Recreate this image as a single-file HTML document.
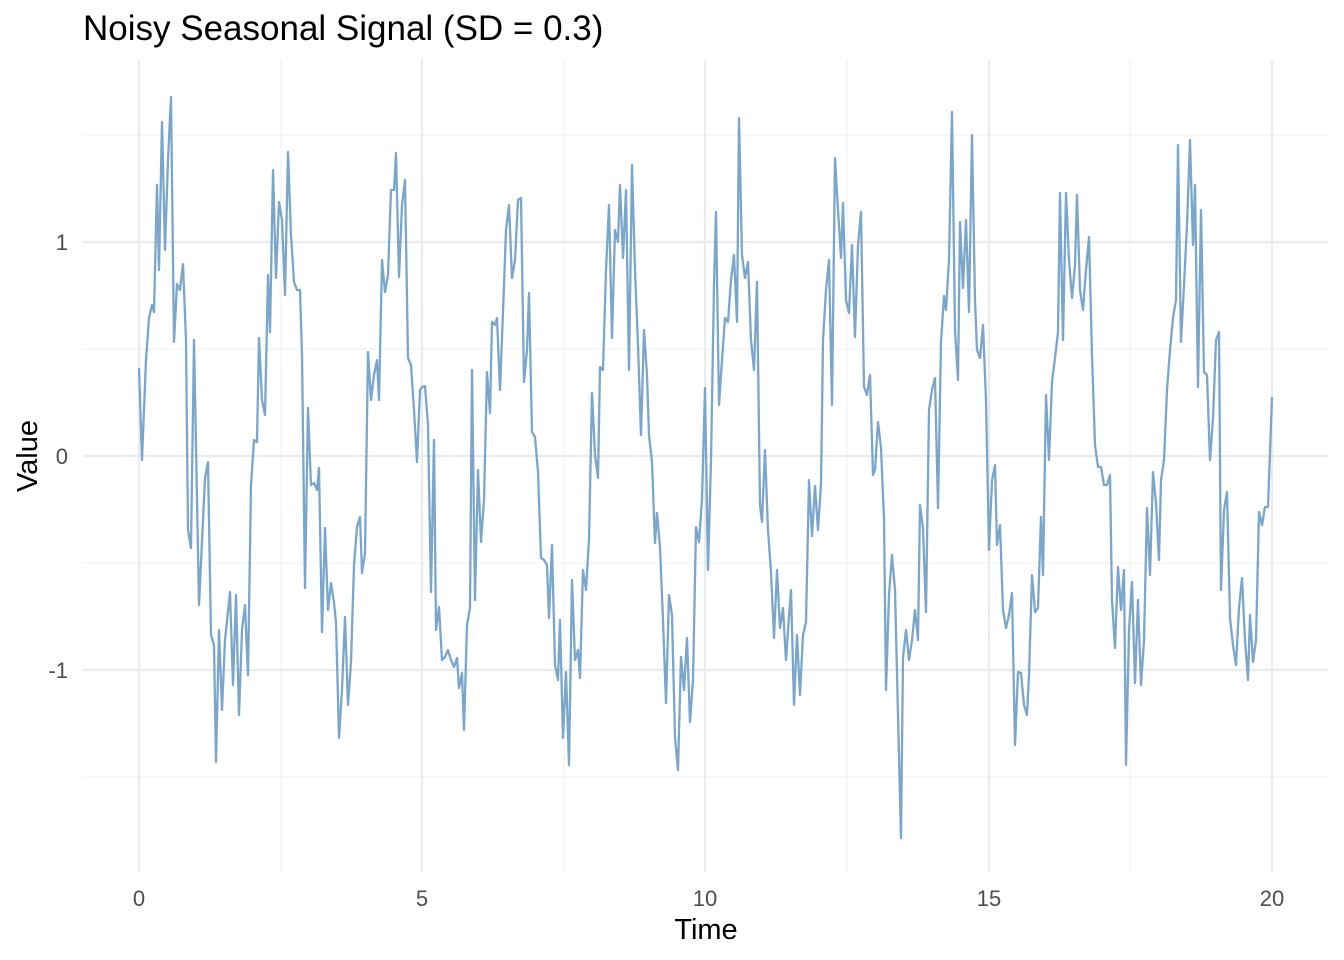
<!DOCTYPE html>
<html><head><meta charset="utf-8"><style>
html,body{margin:0;padding:0;background:#fff;}
svg{display:block;font-family:"Liberation Sans",sans-serif;}
</style></head><body>
<svg width="1344" height="960" viewBox="0 0 1344 960">
<rect width="1344" height="960" fill="#fff"/>
<g stroke="#f0f0f0" stroke-width="1.1">
<line x1="83" x2="1328" y1="135" y2="135"/>
<line x1="83" x2="1328" y1="349" y2="349"/>
<line x1="83" x2="1328" y1="563" y2="563"/>
<line x1="83" x2="1328" y1="777" y2="777"/>
<line y1="60" y2="872" x1="281" x2="281"/>
<line y1="60" y2="872" x1="564" x2="564"/>
<line y1="60" y2="872" x1="847" x2="847"/>
<line y1="60" y2="872" x1="1130" x2="1130"/>
</g>
<g stroke="#ebebeb" stroke-width="2.2">
<line x1="83" x2="1328" y1="242" y2="242"/>
<line x1="83" x2="1328" y1="456" y2="456"/>
<line x1="83" x2="1328" y1="670" y2="670"/>
<line y1="60" y2="872" x1="139" x2="139"/>
<line y1="60" y2="872" x1="422" x2="422"/>
<line y1="60" y2="872" x1="705" x2="705"/>
<line y1="60" y2="872" x1="989" x2="989"/>
<line y1="60" y2="872" x1="1272" x2="1272"/>
</g>
<polyline fill="none" stroke="#7aa6cc" stroke-width="2.3" stroke-linejoin="round" points="139,368 142,460 146,360 149,318 152,305 154,312 157,185 159,270 162,122 165,250 168,160 171,97 174,342 177,284 180,290 183,264 186,340 188,530 191,548 194,340 199,605 205,478 208,462 211,635 214,645 216,762 219,630 222,710 225,640 230,592 233,685 236,595 239,715 242,630 245,605 248,675 251,485 254,440 257,442 259,338 262,400 265,415 268,275 270,332 273,170 276,278 279,202 282,220 285,295 288,152 291,235 294,282 297,290 300,290 302,355 305,588 308,408 311,485 314,483 317,490 319,468 322,632 325,528 328,610 331,583 334,603 336,622 339,738 342,690 345,617 348,705 351,662 354,565 357,527 360,517 362,573 365,553 368,352 371,400 374,375 377,360 379,400 382,260 385,292 388,275 391,190 394,190 396,153 399,277 402,205 405,180 408,358 411,365 414,410 417,462 420,390 422,387 425,386 428,425 431,592 434,440 436,630 439,607 442,660 445,657 448,650 451,660 454,667 457,658 459,688 462,673 464,730 467,625 470,608 472,370 475,600 478,470 481,542 484,500 487,372 490,413 492,322 495,325 497,318 500,390 503,312 506,230 509,205 512,278 515,260 518,200 521,198 524,382 527,350 529,293 532,432 535,437 538,472 541,558 544,560 547,565 549,618 552,545 555,665 558,680 560,620 563,738 566,672 569,765 572,580 575,660 578,650 580,678 583,570 586,590 589,540 592,393 595,455 598,478 600,367 603,370 606,270 609,205 612,338 615,230 618,242 620,185 623,258 626,190 629,370 632,165 635,270 638,345 641,435 644,330 647,375 649,435 652,462 655,543 657,513 660,547 663,620 666,703 669,595 672,615 675,737 678,770 681,657 684,690 687,638 690,722 693,680 696,527 699,542 702,500 705,388 708,570 711,460 714,285 716,212 719,405 722,360 725,318 728,322 731,280 734,255 737,322 739,118 742,255 745,278 748,262 751,340 754,370 757,282 760,505 762,522 765,450 768,530 771,572 774,638 777,570 780,628 783,608 786,660 789,617 791,590 794,705 797,635 800,695 803,635 806,622 809,480 812,536 815,486 818,530 821,484 823,340 826,290 829,260 832,405 835,158 838,210 841,258 843,203 846,300 849,313 852,245 855,337 858,245 861,212 864,387 867,395 870,375 873,475 875,470 878,422 881,448 884,518 886,690 889,595 892,555 895,590 898,715 901,838 903,658 906,630 909,660 912,640 915,610 918,640 920,505 923,528 926,612 929,410 932,390 935,378 938,508 941,342 944,296 946,310 949,260 952,112 955,330 958,380 960,222 963,288 966,220 969,312 972,135 975,300 977,350 980,358 983,325 986,400 989,550 992,480 995,465 997,545 1000,525 1003,610 1006,628 1009,615 1012,593 1015,745 1018,672 1021,673 1024,705 1027,715 1029,675 1032,575 1035,612 1038,608 1041,517 1043,575 1046,395 1049,460 1052,382 1055,358 1058,332 1060,193 1063,340 1066,193 1069,260 1072,298 1075,265 1077,195 1080,290 1083,310 1086,270 1089,237 1092,355 1095,445 1098,467 1101,467 1104,485 1107,485 1110,475 1112,600 1115,648 1118,567 1121,610 1124,570 1126,765 1129,630 1132,582 1135,683 1138,600 1141,685 1144,640 1147,508 1150,575 1153,472 1156,503 1159,560 1161,480 1164,460 1167,390 1170,350 1173,318 1176,300 1178,145 1181,342 1184,285 1187,225 1190,140 1193,245 1195,185 1198,387 1201,210 1204,372 1207,375 1210,460 1213,418 1216,340 1219,332 1221,590 1224,510 1227,492 1230,618 1233,645 1236,665 1239,608 1242,578 1245,640 1248,680 1250,615 1253,662 1256,640 1259,512 1262,525 1265,507 1268,507 1272,397"/>
<g fill="#4d4d4d" font-size="22">
<text x="139" y="906" text-anchor="middle">0</text>
<text x="422" y="906" text-anchor="middle">5</text>
<text x="705" y="906" text-anchor="middle">10</text>
<text x="989" y="906" text-anchor="middle">15</text>
<text x="1272" y="906" text-anchor="middle">20</text>
<text x="68" y="250" text-anchor="end">1</text>
<text x="68" y="464" text-anchor="end">0</text>
<text x="68" y="678" text-anchor="end">-1</text>
</g>
<text x="706" y="939" text-anchor="middle" font-size="29" fill="#000">Time</text>
<text transform="translate(37,456) rotate(-90)" text-anchor="middle" font-size="29" fill="#000">Value</text>
<text x="83" y="40" font-size="35" fill="#000">Noisy Seasonal Signal (SD = 0.3)</text>
</svg>
</body></html>
